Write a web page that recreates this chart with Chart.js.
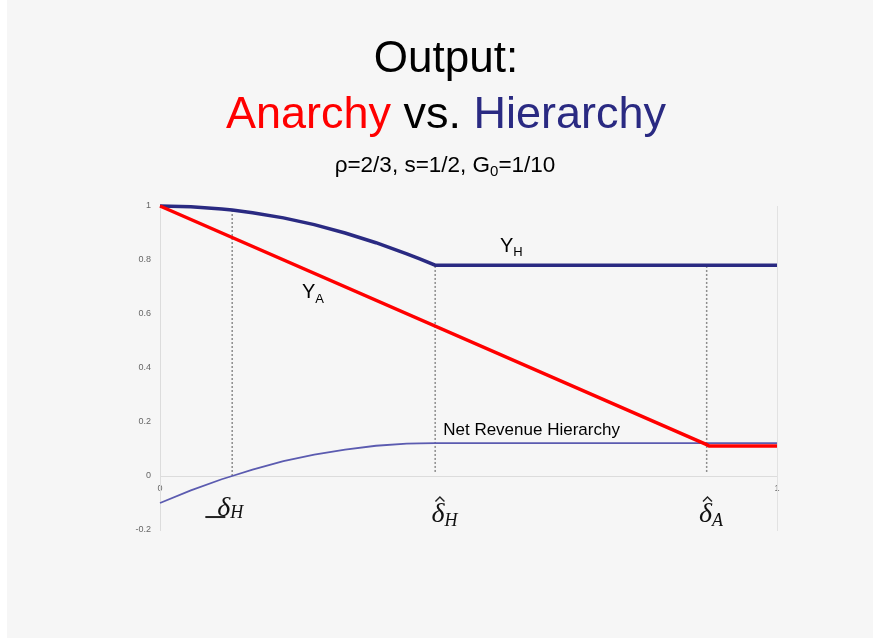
<!DOCTYPE html>
<html>
<head>
<meta charset="utf-8">
<script src="https://cdn.jsdelivr.net/npm/chart.js@4.4.0/dist/chart.umd.min.js"></script>
<style>
html, body { margin: 0; padding: 0; width: 873px; height: 638px; overflow: hidden; }
body { background: linear-gradient(to right, #fff 0, #fff 7px, #f6f6f6 7px); }
#wrap { position: absolute; left: 0; top: 0; width: 873px; height: 638px; }
</style>
</head>
<body>
<div id="wrap"><canvas id="outputChart"></canvas></div>
<script>
// values: delta on x, output on y
const deltaGrid = [0, 0.05, 0.1, 0.117, 0.15, 0.2, 0.25, 0.3, 0.35, 0.4, 0.42, 0.446, 1];
const outputHierarchy = [1, 0.997, 0.989, 0.985, 0.975, 0.956, 0.931, 0.900, 0.864, 0.823, 0.805, 0.781, 0.781];
const netRevenueHierarchy = [-0.1, -0.053, -0.012, 0, 0.024, 0.055, 0.079, 0.098, 0.112, 0.120, 0.121, 0.122, 0.122];
const deltaAnarchy = [0, 0.886, 0.89, 1];
const outputAnarchy = [1, 0.116, 0.111, 0.111];
const markerDelta = [0.117, 0.446, 0.886];
const markerTop = [0.987, 0.781, 0.781];
const markerBottom = [0, 0.015, 0.015];
const yTicks = [-0.2, 0, 0.2, 0.4, 0.6, 0.8, 1];
const xTicks = [0, 1];

const RED = '#ff0000';
const NAVY = '#2a2a82';
const SANS = '"Liberation Sans", Arial, sans-serif';
const SERIF = '"Liberation Serif", "DejaVu Serif", serif';

function toPoints(xs, ys) {
    return xs.map((v, i) => ({ x: v, y: ys[i] }));
}

// draw a run of text pieces (for colours and subscripts)
function drawRuns(ctx, runs, x, baseline, align) {
    let total = 0;
    runs.forEach(r => { ctx.font = r.font; r.w = ctx.measureText(r.text).width; total += r.w; });
    let cx = align === 'center' ? x - total / 2 : x;
    runs.forEach(r => {
        ctx.font = r.font;
        ctx.fillStyle = r.color || '#000';
        r.x = cx;
        ctx.fillText(r.text, cx, baseline + (r.dy || 0));
        cx += r.w;
    });
    return runs;
}

function drawHat(ctx, cx, top) {
    ctx.beginPath();
    ctx.moveTo(cx - 4.5, top + 4.5);
    ctx.lineTo(cx, top);
    ctx.lineTo(cx + 4.5, top + 4.5);
    ctx.stroke();
}

const figureText = {
    id: 'figureText',
    afterDraw(chart) {
        const { ctx } = chart;
        const sx = chart.scales.x, sy = chart.scales.y;
        ctx.save();
        ctx.textAlign = 'left';
        ctx.textBaseline = 'alphabetic';

        // title
        drawRuns(ctx, [{ text: 'Output:', font: '44px ' + SANS }], 446, 72, 'center');
        drawRuns(ctx, [
            { text: 'Anarchy', font: '45px ' + SANS, color: RED },
            { text: ' vs. ', font: '45px ' + SANS },
            { text: 'Hierarchy', font: '45px ' + SANS, color: NAVY }
        ], 446, 128, 'center');
        drawRuns(ctx, [
            { text: '\u03c1=2/3, s=1/2, G', font: '22.5px ' + SANS },
            { text: '0', font: '15px ' + SANS, dy: 4 },
            { text: '=1/10', font: '22.5px ' + SANS }
        ], 445, 172, 'center');

        // curve labels
        drawRuns(ctx, [
            { text: 'Y', font: '20px ' + SANS },
            { text: 'H', font: '13px ' + SANS, dy: 4 }
        ], sx.getPixelForValue(0.551), sy.getPixelForValue(0.83), 'left');
        drawRuns(ctx, [
            { text: 'Y', font: '20px ' + SANS },
            { text: 'A', font: '13px ' + SANS, dy: 5 }
        ], sx.getPixelForValue(0.230), sy.getPixelForValue(0.659), 'left');
        drawRuns(ctx, [{ text: 'Net Revenue Hierarchy', font: '17px ' + SANS }],
            sx.getPixelForValue(0.459), sy.getPixelForValue(0.152), 'left');

        // delta labels under the axis
        ctx.strokeStyle = '#222';
        const lowH = drawRuns(ctx, [
            { text: '\u03b4', font: 'italic 28px ' + SERIF, color: '#111' },
            { text: 'H', font: 'italic 18px ' + SERIF, color: '#111', dy: 2 }
        ], sx.getPixelForValue(0.114), sy.getPixelForValue(-0.148), 'center');
        ctx.lineWidth = 2;
        ctx.beginPath();
        ctx.moveTo(lowH[0].x - 12, sy.getPixelForValue(-0.152));
        ctx.lineTo(lowH[0].x + 8, sy.getPixelForValue(-0.152));
        ctx.stroke();

        ctx.lineWidth = 1.4;
        const hatBase = sy.getPixelForValue(-0.17);
        [[0.461, 'H'], [0.893, 'A']].forEach(([pos, sub]) => {
            const runs = drawRuns(ctx, [
                { text: '\u03b4', font: 'italic 28px ' + SERIF, color: '#111' },
                { text: sub, font: 'italic 18px ' + SERIF, color: '#111', dy: 4 }
            ], sx.getPixelForValue(pos), hatBase, 'center');
            drawHat(ctx, runs[0].x + runs[0].w / 2 + 2, hatBase - 25);
        });
        ctx.restore();
    }
};

const markerSets = markerDelta.map((d, i) => ({
    data: [{ x: d, y: markerBottom[i] }, { x: d, y: markerTop[i] }],
    borderColor: '#8c8c8c',
    borderWidth: 1.5,
    borderDash: [2, 2]
}));

const ctx = document.getElementById('outputChart').getContext('2d');
new Chart(ctx, {
    type: 'scatter',
    data: {
        datasets: [
            { data: toPoints(deltaAnarchy, outputAnarchy), borderColor: RED, borderWidth: 3.5 },
            { data: toPoints(deltaGrid, outputHierarchy), borderColor: NAVY, borderWidth: 3.5 },
            { data: toPoints(deltaGrid, netRevenueHierarchy), borderColor: '#5b5bb0', borderWidth: 1.8 },
            ...markerSets
        ].map(ds => Object.assign({ showLine: true, pointRadius: 0, clip: false, tension: 0 }, ds))
    },
    options: {
        responsive: true,
        maintainAspectRatio: false,
        animation: false,
        layout: { padding: { top: 206, bottom: 108, left: 0, right: 96 } },
        plugins: { legend: { display: false }, tooltip: { enabled: false } },
        scales: {
            x: {
                type: 'linear',
                min: 0,
                max: 1,
                position: { y: 0 },
                afterBuildTicks: s => { s.ticks = xTicks.map(v => ({ value: v })); },
                grid: { display: false, drawTicks: false },
                border: { display: true, color: '#dcdcdc', width: 1 },
                ticks: { padding: 7, color: '#666', font: { size: 9, family: SANS }, callback: v => String(v) }
            },
            y: {
                type: 'linear',
                min: -0.2,
                max: 1,
                afterBuildTicks: s => { s.ticks = yTicks.map(v => ({ value: v })); },
                afterFit: s => { s.width = 160; },
                grid: { display: false, drawTicks: false },
                border: { display: true, color: '#dcdcdc', width: 1 },
                ticks: { padding: 9, color: '#666', font: { size: 9, family: SANS }, callback: v => String(v) }
            },
            yRight: {
                type: 'linear',
                position: 'right',
                min: -0.2,
                max: 1,
                afterFit: s => { s.width = 0; },
                grid: { display: false, drawTicks: false },
                border: { display: true, color: '#e2e2e2', width: 1, dash: [2, 2] },
                ticks: { display: false }
            }
        }
    },
    plugins: [figureText]
});
</script>
</body>
</html>
